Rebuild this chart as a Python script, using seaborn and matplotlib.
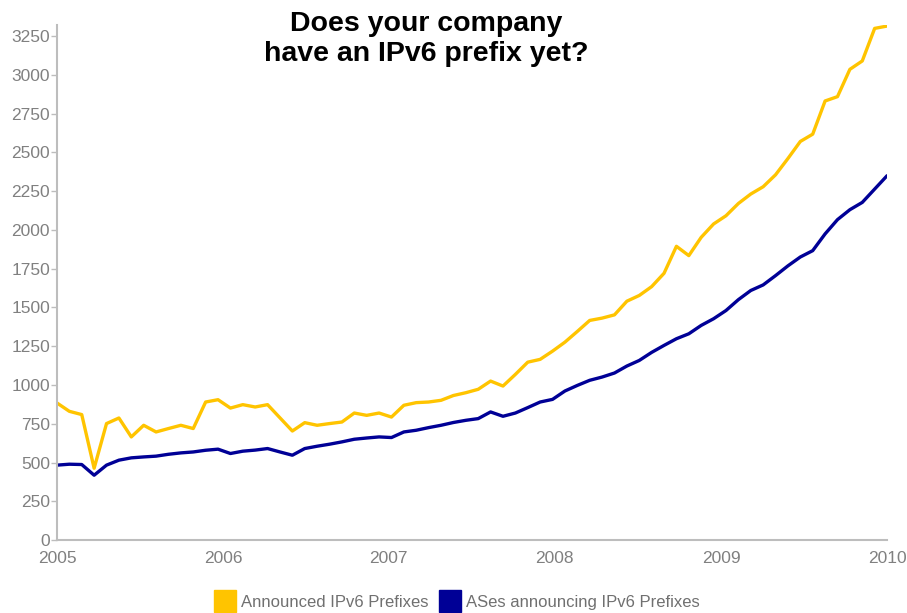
import numpy as np
import pandas as pd
import matplotlib
matplotlib.use("Agg")
import matplotlib.pyplot as plt
from matplotlib.lines import Line2D
import seaborn as sns

# ---- data ----
announced = [884, 830, 809, 463, 751, 787, 665, 740, 697, 719, 740, 719, 890, 905, 851, 873,
             858, 873, 788, 703, 757, 740, 751, 761, 819, 804, 819, 793, 869, 886, 890, 901,
             932, 950, 972, 1025, 993, 1068, 1147, 1165, 1218, 1276, 1345, 1416, 1431, 1452,
             1540, 1577, 1634, 1720, 1894, 1834, 1952, 2038, 2091, 2170, 2231, 2278, 2355,
             2460, 2570, 2617, 2831, 2859, 3035, 3089, 3299, 3314]
ases = [483, 489, 487, 418, 483, 515, 530, 536, 541, 553, 562, 568, 579, 586, 558, 573,
        580, 590, 568, 547, 590, 605, 618, 633, 650, 658, 665, 661, 697, 708, 725, 740,
        758, 772, 783, 826, 798, 819, 854, 890, 907, 961, 997, 1030, 1051, 1077, 1122,
        1158, 1210, 1255, 1298, 1330, 1384, 1427, 1480, 1550, 1609, 1645, 1705, 1768,
        1825, 1866, 1974, 2066, 2130, 2177, 2263, 2349]
series_names = ["Announced IPv6 Prefixes", "ASes announcing IPv6 Prefixes"]
y_ticks = list(range(0, 3251, 250))
x_tick_years = ["2005", "2006", "2007", "2008", "2009", "2010"]
title = "Does your company\nhave an IPv6 prefix yet?"

dates = pd.date_range(start="2005-01-01", end="2010-01-01", periods=len(announced))
df = pd.DataFrame({
    "date": list(dates) * 2,
    "value": announced + ases,
    "series": [series_names[0]] * len(announced) + [series_names[1]] * len(ases),
})

colors = {series_names[0]: "#FFC400", series_names[1]: "#000096"}

sns.set_theme(style="white")
plt.rcParams["font.family"] = ["Liberation Sans", "DejaVu Sans"]

fig = plt.figure(figsize=(9.07, 6.13), dpi=100)
fig.patch.set_facecolor("white")
ax = fig.add_axes([0.0628, 0.119, 0.9152, 0.840])

sns.lineplot(data=df, x="date", y="value", hue="series", palette=colors,
             linewidth=2.4, ax=ax, legend=False)

ax.set_xlim(pd.Timestamp("2005-01-01"), pd.Timestamp("2010-01-01"))
ax.set_ylim(0, 3320)
ax.set_yticks(y_ticks)
ax.set_yticklabels([str(t) for t in y_ticks])
ax.set_xticks([pd.Timestamp(f"{y}-01-01") for y in x_tick_years])
ax.set_xticklabels(x_tick_years)
ax.set_xlabel("")
ax.set_ylabel("")

for s in ["top", "right"]:
    ax.spines[s].set_visible(False)
for s in ["left", "bottom"]:
    ax.spines[s].set_color("#BDBDBD")
    ax.spines[s].set_linewidth(1.5)

ax.tick_params(axis="y", which="both", left=True, length=4, width=1, color="#BDBDBD",
               labelsize=12.5, labelcolor="#808080", pad=1)
ax.tick_params(axis="x", which="both", bottom=False, length=0,
               labelsize=12.5, labelcolor="#808080", pad=8)

fig.text(0.47, 0.982, title, ha="center", va="top", fontsize=20.5, fontweight="bold",
         color="black", linespacing=1.2)

handles = [Line2D([0], [0], marker="s", linestyle="none", markersize=16,
                  markerfacecolor=colors[n], markeredgecolor=colors[n]) for n in series_names]
leg = fig.legend(handles, series_names, loc="lower center", bbox_to_anchor=(0.505, -0.02),
                 ncol=2, frameon=False, fontsize=12, handletextpad=0.45,
                 columnspacing=0.8, handlelength=1.0)
for t in leg.get_texts():
    t.set_color("#707070")

fig.savefig("out.png", dpi=100, facecolor="white")
